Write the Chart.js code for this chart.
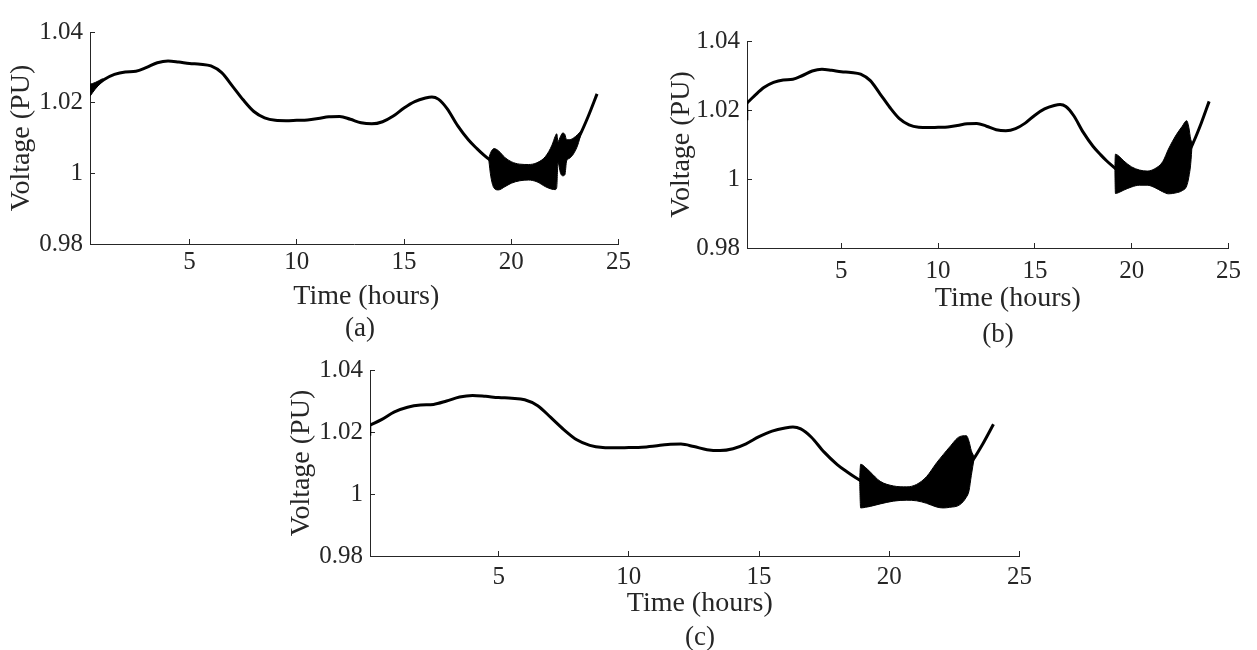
<!DOCTYPE html>
<html>
<head>
<meta charset="utf-8">
<title>Voltage profiles</title>
<script src="https://cdn.jsdelivr.net/npm/chart.js@4.4.1/dist/chart.umd.min.js"></script>
<style>
  html, body { margin: 0; padding: 0; background: #fff; }
  body { width: 1257px; height: 650px; position: relative; overflow: hidden; font-family: "Liberation Serif", serif; }
  canvas { position: absolute; }
  .cap { position: absolute; font-size: 27px; color: #262626; transform: translate(-50%, -50%); white-space: nowrap; }
</style>
</head>
<body>
<canvas id="chartA" width="639" height="317" style="left:0px;top:5px"></canvas>
<canvas id="chartB" width="597" height="312" style="left:657px;top:14px"></canvas>
<canvas id="chartC" width="763" height="291" style="left:280px;top:343px"></canvas>
<div class="cap" style="left:360px;top:327px">(a)</div>
<div class="cap" style="left:998px;top:333px">(b)</div>
<div class="cap" style="left:700px;top:636px">(c)</div>
<script>
// ---------- axis ticks ----------
const xTicks = [5, 10, 15, 20, 25];
const yTicks = [0.98, 1, 1.02, 1.04];
const yTickLabels = ["0.98", "1", "1.02", "1.04"];

// ---------- daily voltage profile (hours, pu) shared by all cases ----------
const mainT = [0.5, 1, 1.5, 2, 2.5, 3, 3.5, 4, 4.5, 5,
  5.5, 6, 6.5, 7, 7.5, 8, 8.5, 9, 9.5, 10,
  10.5, 11, 11.5, 12, 12.5, 13, 13.5, 14, 14.5, 15,
  15.5, 16, 16.3, 16.6, 17, 17.5, 18, 18.4, 18.7, 19,
  19.5, 20, 20.5, 21, 21.5, 22, 22.5, 23, 23.2, 23.6, 24];
const mainV = [1.0240, 1.0265, 1.0280, 1.0287, 1.0289, 1.0300, 1.0313, 1.0318, 1.0315, 1.0311,
  1.0309, 1.0304, 1.0285, 1.0247, 1.0208, 1.0175, 1.0157, 1.0150, 1.0149, 1.0150,
  1.0151, 1.0155, 1.0160, 1.0161, 1.0153, 1.0143, 1.0140, 1.0146, 1.0162, 1.0185,
  1.0203, 1.0213, 1.0216, 1.0210, 1.0184, 1.0135, 1.0095, 1.0070, 1.0053, 1.0038,
  1.0016, 1.0005, 1.0002, 1.0004, 1.0010, 1.0030, 1.0060, 1.0085, 1.0108, 1.0163, 1.0225];

// ---------- case (a) ----------
const aHeadT = [0.36];
const aHeadV = [1.0232];
const aStartT = [0.36, 0.6, 0.95];
const aStartHi = [1.0252, 1.0257, 1.0268];
const aStartLo = [1.0218, 1.0238, 1.0262];
const aBandT = [18.95, 19.05, 19.2, 19.4, 19.7, 20.0, 20.4, 20.8, 21.2, 21.6, 21.9,
  22.05, 22.12, 22.18, 22.3, 22.4, 22.5, 22.58, 22.7, 22.9, 23.1, 23.25];
const aBandHi = [1.0043, 1.0060, 1.0070, 1.0064, 1.0045, 1.0033, 1.0026, 1.0025, 1.0030, 1.0048, 1.0080,
  1.0105, 1.0112, 1.0090, 1.0105, 1.0114, 1.0110, 1.0095, 1.0095, 1.0100, 1.0110, 1.0120];
const aBandLo = [1.0039, 0.9990, 0.9958, 0.9953, 0.9962, 0.9972, 0.9979, 0.9981, 0.9976, 0.9962, 0.9955,
  0.9954, 0.9960, 1.0030, 1.0000, 0.9993, 0.9996, 1.0035, 1.0042, 1.0055, 1.0080, 1.0112];

// ---------- case (b) ----------
const bSpikeT = [0.13, 0.13];
const bSpikeV = [1.0170, 1.0220];
const bHeadT = [0.13];
const bHeadV = [1.0220];
const bBandT = [19.13, 19.16, 19.3, 19.6, 20.0, 20.4, 20.8, 21.2, 21.6, 21.9,
  22.3, 22.6, 22.84, 22.95, 23.05, 23.12];
const bBandHi = [1.0034, 1.0072, 1.0068, 1.0052, 1.0035, 1.0026, 1.0023, 1.0030, 1.0050, 1.0087,
  1.0128, 1.0152, 1.0169, 1.0150, 1.0115, 1.0108];
const bBandLo = [1.0030, 0.9958, 0.9960, 0.9968, 0.9977, 0.9982, 0.9982, 0.9975, 0.9963, 0.9957,
  0.9960, 0.9966, 0.9980, 1.0005, 1.0045, 1.0100];

// ---------- case (c) ----------
const cSpikeT = [0.06, 0.06];
const cSpikeV = [1.0188, 1.0222];
const cHeadT = [0.06];
const cHeadV = [1.0222];
const cBandT = [18.86, 18.90, 19.08, 19.27, 19.65, 20.16, 20.67, 21.05, 21.43, 21.82,
  22.07, 22.32, 22.7, 22.96, 23.06, 23.15, 23.26];
const cBandHi = [1.0046, 1.0096, 1.0086, 1.0071, 1.0041, 1.0026, 1.0023, 1.0031, 1.0056, 1.0101,
  1.0127, 1.0152, 1.0185, 1.0188, 1.0170, 1.0140, 1.0120];
const cBandLo = [1.0042, 0.9955, 0.9957, 0.9960, 0.9968, 0.9977, 0.9980, 0.9978, 0.9970, 0.9958,
  0.9955, 0.9957, 0.9965, 0.9990, 1.0010, 1.0060, 1.0116];

// ---------- drawing ----------
const INK = "#262626";
const tickFont = { family: "Liberation Serif", size: 25 };
const titleFont = { family: "Liberation Serif", size: 28 };

function pts(t, v) {
  return t.map((x, i) => ({ x: x, y: v[i] }));
}

// x label drawn under the axis, nudged sideways as in the printed figure
const xTitlePlugin = {
  id: "xTitle",
  afterDraw(chart, args, opts) {
    const { ctx, chartArea } = chart;
    ctx.save();
    ctx.font = titleFont.size + "px '" + titleFont.family + "'";
    ctx.fillStyle = INK;
    ctx.textAlign = "center";
    ctx.textBaseline = "middle";
    ctx.fillText(opts.text, (chartArea.left + chartArea.right) / 2 + opts.dx, chartArea.bottom + opts.dy);
    ctx.restore();
  }
};

function drawPanel(id, p) {
  const datasets = [];

  // oscillation envelopes, filled black between upper and lower edge
  p.bands.forEach(b => {
    datasets.push({
      data: pts(b.t, b.hi), borderColor: "#000", borderWidth: 1,
      backgroundColor: "#000", fill: "+1", pointRadius: 0,
      cubicInterpolationMode: "monotone"
    });
    datasets.push({
      data: pts(b.t, b.lo), borderColor: "#000", borderWidth: 1,
      fill: false, pointRadius: 0, cubicInterpolationMode: "monotone"
    });
  });

  // switching transient at the start of the run
  if (p.spikeT) {
    datasets.push({
      data: pts(p.spikeT, p.spikeV), borderColor: "#000", borderWidth: 2.5,
      fill: false, pointRadius: 0, tension: 0
    });
  }

  datasets.push({
    data: pts(p.headT.concat(mainT), p.headV.concat(mainV)),
    borderColor: "#000", borderWidth: 3, fill: false, pointRadius: 0,
    cubicInterpolationMode: "monotone"
  });

  new Chart(document.getElementById(id), {
    type: "line",
    data: { datasets: datasets },
    plugins: [xTitlePlugin],
    options: {
      responsive: false,
      animation: false,
      events: [],
      layout: { padding: { top: 15, right: 20, left: 0, bottom: 0 } },
      plugins: {
        legend: { display: false },
        tooltip: { enabled: false },
        xTitle: { text: "Time (hours)", dx: p.titleDx, dy: p.titleDy }
      },
      scales: {
        x: {
          type: "linear", min: p.xMin, max: 25,
          afterBuildTicks: s => { s.ticks = xTicks.map(v => ({ value: v })); },
          afterFit: s => { s.height = 78; },
          grid: { drawOnChartArea: false, tickLength: -5, color: INK, lineWidth: 1 },
          border: { color: INK, width: 1 },
          ticks: { padding: p.xTickPad, color: INK, font: tickFont, maxRotation: 0, autoSkip: false,
                   callback: v => String(v) }
        },
        y: {
          type: "linear", min: 0.98, max: 1.04,
          afterBuildTicks: s => { s.ticks = yTicks.map(v => ({ value: v })); },
          afterFit: s => { s.width = 90; },
          grid: { drawOnChartArea: false, tickLength: -5, color: INK, lineWidth: 1 },
          border: { color: INK, width: 1 },
          ticks: { padding: 12, color: INK, font: tickFont, autoSkip: false,
                   callback: v => yTickLabels[yTicks.indexOf(v)] },
          title: { display: true, text: "Voltage (PU)", color: INK, font: titleFont,
                   padding: { top: p.yTitlePad, bottom: 0 } }
        }
      }
    }
  });
}

drawPanel("chartA", {
  xMin: 0.36, headT: aHeadT, headV: aHeadV,
  xTickPad: 8, yTitlePad: 5, titleDx: 12, titleDy: 53,
  bands: [
    { t: aStartT, hi: aStartHi, lo: aStartLo },
    { t: aBandT, hi: aBandHi, lo: aBandLo }
  ]
});

drawPanel("chartB", {
  xMin: 0.13, headT: bHeadT, headV: bHeadV, spikeT: bSpikeT, spikeV: bSpikeV,
  xTickPad: 13, yTitlePad: 8, titleDx: 20, titleDy: 51,
  bands: [{ t: bBandT, hi: bBandHi, lo: bBandLo }]
});

drawPanel("chartC", {
  xMin: 0.06, headT: cHeadT, headV: cHeadV, spikeT: cSpikeT, spikeV: cSpikeV,
  xTickPad: 11, yTitlePad: 5, titleDx: 5, titleDy: 48,
  bands: [{ t: cBandT, hi: cBandHi, lo: cBandLo }]
});
</script>
</body>
</html>
